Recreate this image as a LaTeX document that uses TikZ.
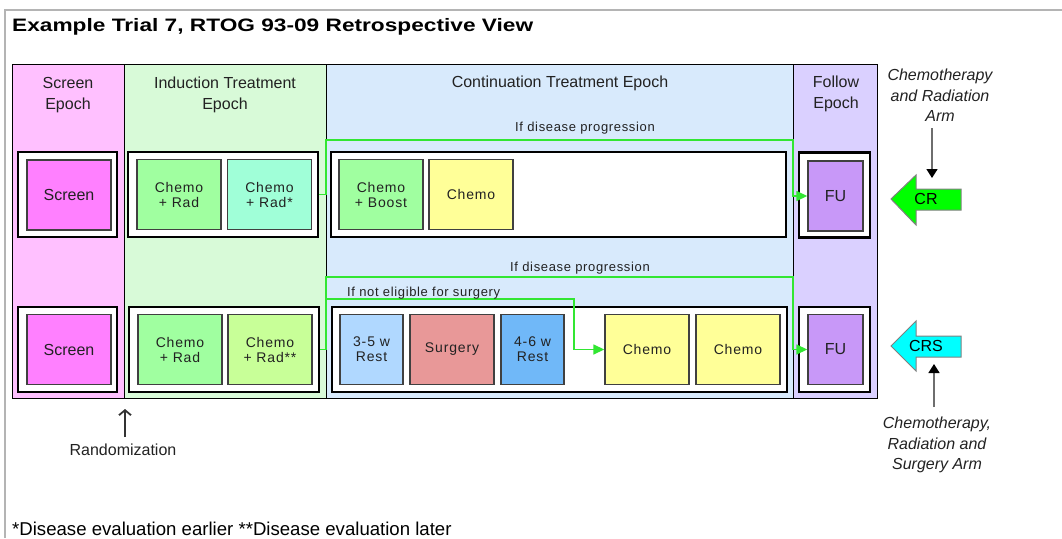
\documentclass[tikz,border=0pt]{standalone}
\usepackage{fontspec}
\usepackage{graphicx}
\setmainfont{Liberation Sans}
\newfontfamily\spacedfont[LetterSpace=6]{Liberation Sans}
\newfontfamily\lblfont[LetterSpace=5]{Liberation Sans}
\usetikzlibrary{arrows.meta}
\definecolor{framegray}{RGB}{180,180,180}
\definecolor{txt}{RGB}{34,34,34}
\definecolor{epScr}{RGB}{255,192,255}
\definecolor{epInd}{RGB}{216,250,216}
\definecolor{epCont}{RGB}{216,234,252}
\definecolor{epFol}{RGB}{218,208,255}
\definecolor{cScreen}{RGB}{255,128,255}
\definecolor{cChemoRad}{RGB}{160,255,160}
\definecolor{cChemoRadA}{RGB}{160,255,216}
\definecolor{cChemoRadB}{RGB}{200,255,152}
\definecolor{cYellow}{RGB}{255,255,152}
\definecolor{cRestA}{RGB}{176,216,255}
\definecolor{cSurg}{RGB}{232,152,152}
\definecolor{cRestB}{RGB}{112,184,248}
\definecolor{cFU}{RGB}{200,152,248}
\definecolor{cCR}{RGB}{0,255,0}
\definecolor{cCRS}{RGB}{0,255,255}
\definecolor{gln}{RGB}{50,230,50}
\definecolor{innerdraw}{RGB}{64,64,64}
\definecolor{armgray}{RGB}{110,110,110}
\begin{document}
\begin{tikzpicture}[x=1pt,y=-1pt,
  epoch/.style={draw=black, line width=1pt, inner sep=0pt, minimum height=334pt, anchor=north west},
  hdr/.style={align=center, text=txt, font=\fontsize{16}{20.5}\selectfont, inner sep=0pt},
  outerbox/.style={draw=black, line width=2.8pt, fill=white, minimum height=85pt, inner sep=0pt},
  innerbox/.style={draw=innerdraw, line width=1.4pt, minimum width=84pt, minimum height=70pt, inner sep=0pt, align=center, text=txt, font=\spacedfont\fontsize{14}{15}\selectfont},
  bigtext/.style={font=\fontsize{16}{20}\selectfont},
  gline/.style={draw=gln, line width=1.5pt},
  garrow/.style={gline, -{Triangle[length=11pt,width=10pt]}},
  lbl/.style={text=txt, font=\lblfont\fontsize{13}{15}\selectfont, inner sep=0pt},
  bigarrow/.style={draw=gray, line width=1pt},
  armlbl/.style={align=center, text=txt, font=\itshape\fontsize{16}{20.5}\selectfont, inner sep=0pt},
  armarrow/.style={draw=armgray, line width=1.5pt, -{Triangle[length=9pt,width=11pt,color=black]}},
  randarrow/.style={draw=black!80, line width=1.8pt, -{Straight Barb[length=5pt,width=12pt]}}
]
\useasboundingbox (0,0) rectangle (1062,538);
\fill[white] (0,0) rectangle (1062,538);
% frame
\draw[framegray, line width=2pt] (4.5,538) -- (4.5,10) -- (1062,10);
% title
\node[anchor=base west, inner sep=0pt, text=black] (title) at (12,31.7)
  {\scalebox{1.26}[1]{\bfseries\fontsize{18}{20}\selectfont Example Trial 7, RTOG 93-09 Retrospective View}};
% epochs
\node[epoch, fill=epScr, minimum width=112pt] (scrEp) at (12,64) {};
\node[epoch, fill=epInd, minimum width=202pt] (indEp) at (124,64) {};
\node[epoch, fill=epCont, minimum width=467pt] (contEp) at (326,64) {};
\node[epoch, fill=epFol, minimum width=84pt] (folEp) at (793,64) {};
\node[hdr] (hScr) at (68,95) {Screen\\Epoch};
\node[hdr] (hInd) at (225,95) {Induction Treatment\\Epoch};
\node[hdr] (hCont) at (560,83) {Continuation Treatment Epoch};
\node[hdr] (hFol) at (836,94) {Follow\\Epoch};
% row 1
\node[outerbox, minimum width=99pt] (scrO1) at (67.5,194.5) {};
\node[innerbox, fill=cScreen, font=\fontsize{16}{18}\selectfont] (scrI1) at (69,195) {Screen};
\node[outerbox, minimum width=190pt] (indO1) at (223,194.5) {};
\node[innerbox, fill=cChemoRad] (cr1) at (179,194.5) {Chemo\\+ Rad};
\node[innerbox, fill=cChemoRadA] (crA1) at (269.5,194.5) {Chemo\\+ Rad*};
\node[outerbox, minimum width=455pt] (contO1) at (558.5,194.5) {};
\node[innerbox, fill=cChemoRad] (cb1) at (381,194.5) {Chemo\\+ Boost};
\node[innerbox, fill=cYellow] (ch1) at (471,194.5) {Chemo};
\node[outerbox, minimum width=71pt] (fuO1) at (834.5,195) {};
\node[innerbox, fill=cFU, minimum width=55pt, font=\fontsize{16}{18}\selectfont] (fuI1) at (835.5,196) {FU};
% row 2
\node[outerbox, minimum width=99pt] (scrO2) at (67.5,349.5) {};
\node[innerbox, fill=cScreen, font=\fontsize{16}{18}\selectfont] (scrI2) at (69,349.5) {Screen};
\node[outerbox, minimum width=190pt] (indO2) at (224,349.5) {};
\node[innerbox, fill=cChemoRad] (cr2) at (180,349.5) {Chemo\\+ Rad};
\node[innerbox, fill=cChemoRadB] (crB2) at (270,349.5) {Chemo\\+ Rad**};
\node[outerbox, minimum width=455pt] (contO2) at (559.5,349.5) {};
\node[innerbox, fill=cRestA, minimum width=63pt] (rest1) at (371.5,349.5) {3-5 w\\Rest};
\node[innerbox, fill=cSurg] (surg) at (452,349.5) {Surgery};
\node[innerbox, fill=cRestB, minimum width=63pt] (rest2) at (532.5,349.5) {4-6 w\\Rest};
\node[innerbox, fill=cYellow] (ch2a) at (647,349.5) {Chemo};
\node[innerbox, fill=cYellow] (ch2b) at (738,349.5) {Chemo};
\node[outerbox, minimum width=71pt] (fuO2) at (834.5,349.5) {};
\node[innerbox, fill=cFU, minimum width=55pt, font=\fontsize{16}{18}\selectfont] (fuI2) at (835.5,349.5) {FU};
% green connectors
\coordinate (g1a) at (326,140);
\coordinate (g1b) at (793,140);
\coordinate (g2a) at (326,277);
\coordinate (g2b) at (793,277);
\coordinate (g3a) at (326,299);
\coordinate (g3b) at (574,299);
\draw[garrow] (indO1.east) -- (indO1.east -| g1a) -- (g1a) -- (g1b) -- (g1b |- fuI1.west) -- (fuI1.west);
\draw[garrow] (indO2.east) -- (indO2.east -| g2a) -- (g2a) -- (g2b) -- (g2b |- fuI2.west) -- (fuI2.west);
\draw[garrow] (g3a) -- (g3b) -- (g3b |- ch2a.west) -- (ch2a.west);
\node[lbl] (lp1) at (585,128) {If disease progression};
\node[lbl] (lp2) at (580,268) {If disease progression};
\node[lbl, anchor=west] (lns) at (347,293) {If not eligible for surgery};
% arm arrows
\draw[bigarrow, fill=cCR] (891,199) -- (916,175) -- (916,189) -- (961,189) -- (961,210) -- (916,210) -- (916,225) -- cycle;
\node[bigtext, text=black, inner sep=0pt] (crTag) at (926,199) {CR};
\draw[bigarrow, fill=cCRS] (891,346) -- (916,321) -- (916,336) -- (961,336) -- (961,357) -- (916,357) -- (916,371) -- cycle;
\node[bigtext, text=black, inner sep=0pt] (crsTag) at (926,346) {CRS};
\node[armlbl] (armCR) at (940,95.5) {Chemotherapy\\and Radiation\\Arm};
\node[armlbl] (armCRS) at (937,445) {Chemotherapy,\\Radiation and\\Surgery Arm};
\coordinate (aCRs) at (932,128);
\coordinate (aCRe) at (932,178);
\coordinate (aCRSs) at (934,407);
\coordinate (aCRSe) at (934,364);
\draw[armarrow] (aCRs) -- (aCRe);
\draw[armarrow] (aCRSs) -- (aCRSe);
% randomization
\node[text=txt, font=\fontsize{16}{20}\selectfont, inner sep=0pt] (rand) at (123,450) {Randomization};
\coordinate (rS) at (125,437);
\coordinate (rE) at (125,409);
\draw[randarrow] (rS) -- (rE);
% footer
\node[anchor=base west, inner sep=0pt, text=black, font=\fontsize{18.6}{20}\selectfont] (foot) at (12,535) {*Disease evaluation earlier **Disease evaluation later};
\end{tikzpicture}
\end{document}
